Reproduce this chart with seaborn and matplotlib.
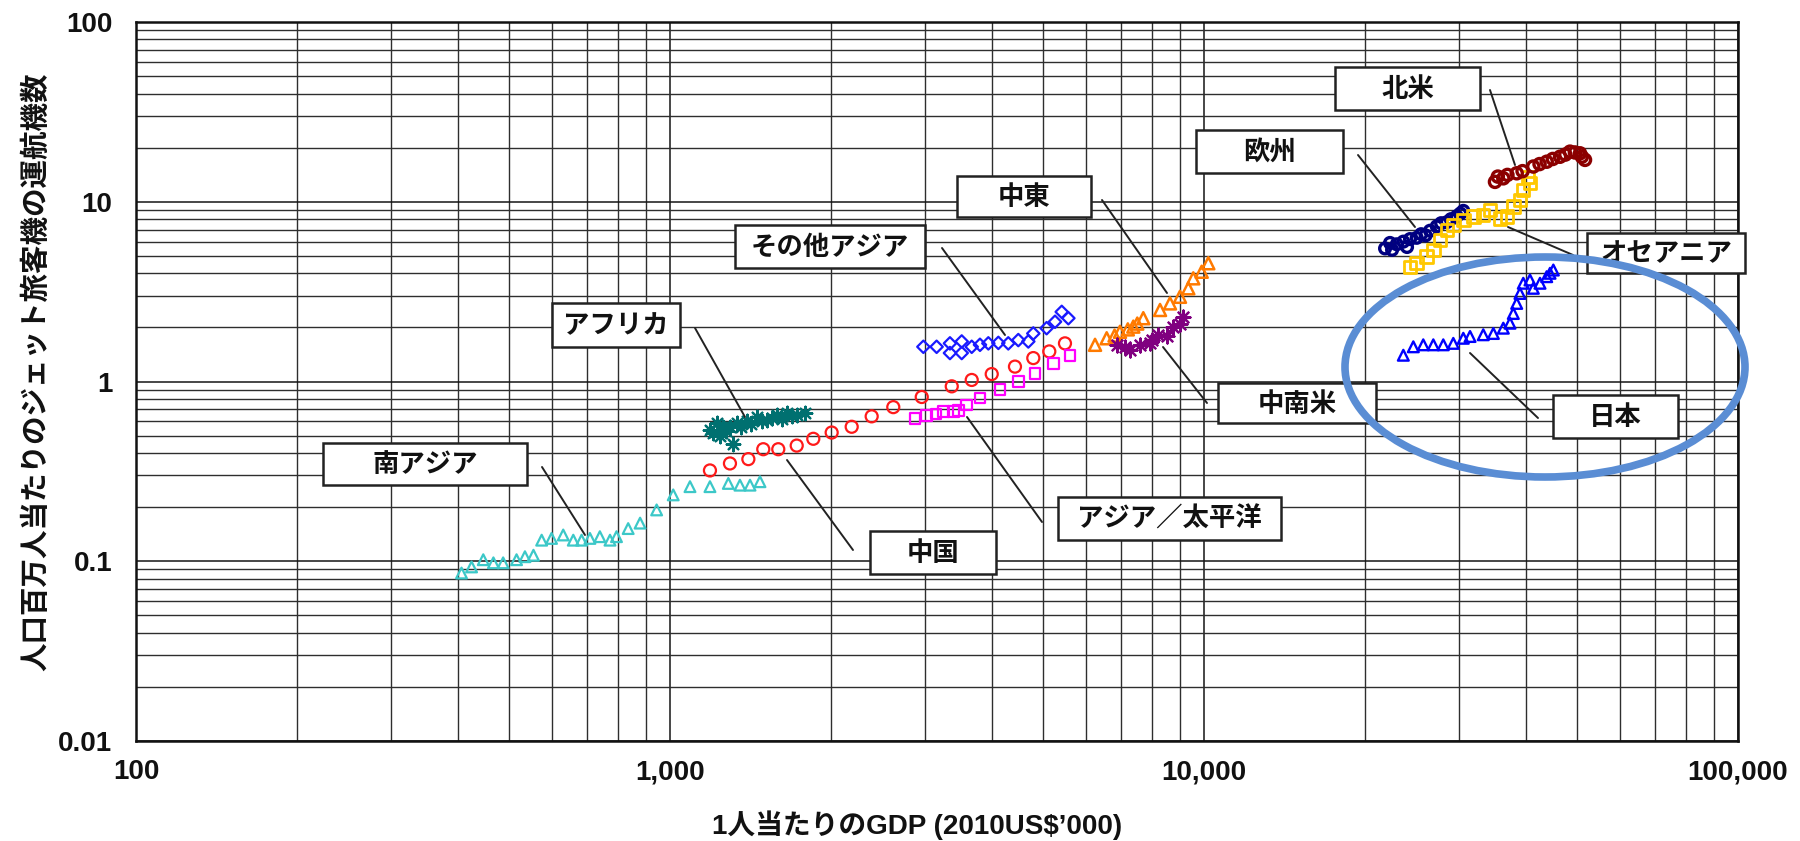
import matplotlib
matplotlib.use("Agg")
import pandas as pd
import matplotlib.pyplot as plt
import seaborn as sns
from matplotlib.patches import Ellipse, Rectangle
from matplotlib.lines import Line2D
from matplotlib.ticker import LogLocator, FuncFormatter, NullFormatter

## Values: GDP per capita (2010 US$) vs. jets per million people
south_asia_gdp = [407, 425, 447, 467, 487, 516, 535, 555, 575, 600, 631, 659, 683, 708,
                  739, 772, 794, 835, 879, 944, 1014, 1090, 1188, 1286, 1352, 1412, 1474]
south_asia_jets = [0.086, 0.093, 0.102, 0.098, 0.098, 0.102, 0.106, 0.108, 0.131, 0.134,
                   0.140, 0.131, 0.131, 0.134, 0.137, 0.131, 0.137, 0.152, 0.163, 0.193,
                   0.234, 0.260, 0.260, 0.271, 0.265, 0.265, 0.277]

china_gdp = [1188, 1295, 1402, 1495, 1595, 1727, 1855, 2008, 2189, 2386, 2619, 2961,
             3370, 3673, 4004, 4426, 4790, 5132, 5491]
china_jets = [0.32, 0.35, 0.37, 0.42, 0.42, 0.44, 0.48, 0.52, 0.56, 0.64, 0.72, 0.82,
              0.94, 1.02, 1.10, 1.21, 1.35, 1.47, 1.63]

africa_gdp = [1188, 1205, 1223, 1240, 1258, 1275, 1295, 1312, 1333, 1360, 1392, 1420,
              1453, 1485, 1517, 1550, 1584, 1620, 1654, 1690, 1727, 1790]
africa_jets = [0.54, 0.52, 0.585, 0.50, 0.56, 0.53, 0.56, 0.45, 0.585, 0.56, 0.60, 0.58,
               0.637, 0.60, 0.61, 0.63, 0.65, 0.62, 0.665, 0.64, 0.65, 0.665]

asia_pac_gdp = [2876, 3025, 3150, 3250, 3400, 3467, 3594, 3806, 4150, 4490, 4825, 5222, 5610]
asia_pac_jets = [0.62, 0.65, 0.66, 0.68, 0.68, 0.69, 0.74, 0.81, 0.90, 1.00, 1.11, 1.26, 1.40]

other_asia_gdp = [2982, 3157, 3344, 3344, 3518, 3518, 3673, 3806, 3946, 4120, 4300, 4490,
                  4688, 4790, 5073, 5260, 5415, 5572]
other_asia_jets = [1.56, 1.56, 1.63, 1.44, 1.67, 1.44, 1.56, 1.60, 1.63, 1.64, 1.63, 1.70,
                   1.67, 1.85, 1.98, 2.15, 2.44, 2.25]

mideast_gdp = [6251, 6573, 6800, 6961, 7200, 7373, 7500, 7697, 8273, 8636, 9016, 9346,
               9548, 9901, 10188]
mideast_jets = [1.60, 1.74, 1.80, 1.89, 1.95, 2.02, 2.10, 2.25, 2.50, 2.72, 2.96, 3.30,
                3.75, 4.08, 4.55]

latam_gdp = [6864, 7100, 7269, 7589, 7924, 8000, 8212, 8514, 8759, 9000, 9146]
latam_jets = [1.60, 1.55, 1.50, 1.60, 1.63, 1.70, 1.82, 1.78, 2.02, 2.10, 2.29]

europe_gdp = [21830, 22300, 22500, 22960, 23620, 24000, 24310, 25020, 25500, 26000, 26500,
              27280, 27800, 28500, 29000, 29730, 30200, 30590]
europe_jets = [5.5, 5.9, 5.4, 5.8, 6.0, 5.6, 6.2, 6.3, 6.6, 6.5, 6.9, 7.3, 7.6, 7.7, 8.0,
               8.3, 8.6, 8.9]

oceania_gdp = [24310, 25020, 26120, 26880, 27670, 28480, 29300, 30590, 31940, 33340, 34320,
               35840, 36890, 37950, 39060, 39620, 40780, 40480]
oceania_jets = [4.35, 4.55, 4.95, 5.39, 6.13, 6.97, 7.43, 7.92, 8.26, 8.44, 9.0, 8.09,
                8.26, 9.39, 10.2, 11.6, 12.67, 13.78]

north_america_gdp = [35070, 35500, 36350, 37000, 38510, 39500, 41370, 42500, 43830, 45000,
                     46420, 47500, 48460, 49500, 50600, 51700, 51000]
north_america_jets = [12.9, 13.8, 13.5, 14.1, 14.4, 14.8, 15.7, 16.2, 16.7, 17.3, 17.8,
                      18.3, 19.0, 18.8, 18.6, 17.1, 17.8]

japan_gdp = [23620, 24660, 25740, 26880, 28060, 29300, 30590, 31490, 33340, 34820, 36350,
             37410, 37950, 38510, 39060, 39620, 40780, 41370, 42580, 43830, 44460, 45100]
japan_jets = [1.40, 1.56, 1.60, 1.60, 1.60, 1.63, 1.74, 1.78, 1.82, 1.85, 1.98, 2.11,
              2.39, 2.72, 3.09, 3.52, 3.67, 3.30, 3.52, 3.83, 4.00, 4.17]

x_ticks = [100, 1000, 10000, 100000]
y_ticks = [0.01, 0.1, 1, 10, 100]

x_title = "1人当たりのGDP (2010US$\u2019000)"
y_title = "人口百万人当たりのジェット旅客機の運航機数"

## (name, gdp, jets, marker, color, size, edge width, hollow)
series = [
    ("南アジア", south_asia_gdp, south_asia_jets, "^", "#3CC8C8", 60, 1.6, True),
    ("アフリカ", africa_gdp, africa_jets, (8, 2, 0), "#007070", 95, 1.6, False),
    ("中国", china_gdp, china_jets, "o", "#FF1A1A", 75, 1.6, True),
    ("アジア／太平洋", asia_pac_gdp, asia_pac_jets, "s", "#FF00FF", 60, 1.6, True),
    ("その他アジア", other_asia_gdp, other_asia_jets, "D", "#1A1AFF", 40, 1.6, True),
    ("中東", mideast_gdp, mideast_jets, "^", "#FF7A00", 75, 1.8, True),
    ("中南米", latam_gdp, latam_jets, (8, 2, 0), "#800080", 100, 1.6, False),
    ("欧州", europe_gdp, europe_jets, "o", "#000080", 60, 2.4, True),
    ("オセアニア", oceania_gdp, oceania_jets, "s", "#FFC800", 80, 2.0, True),
    ("北米", north_america_gdp, north_america_jets, "o", "#8B0000", 65, 2.4, True),
    ("日本", japan_gdp, japan_jets, "^", "#0000FF", 60, 1.7, True),
]

df = pd.concat([pd.DataFrame({"region": name, "gdp": gdp, "jets": jets})
                for name, gdp, jets, *_ in series], ignore_index=True)

sns.set_style("white")
plt.rcParams["font.family"] = ["Liberation Sans", "Noto Sans CJK JP"]
plt.rcParams["font.weight"] = "bold"

W, H = 1800, 841
fig = plt.figure(figsize=(W / 100, H / 100), dpi=100)
ax = fig.add_axes([136 / W, 1 - 741 / H, (1738 - 136) / W, (741 - 22) / H])

for name, _, _, marker, color, size, lw, hollow in series:
    sub = df[df["region"] == name]
    if hollow:
        sns.scatterplot(data=sub, x="gdp", y="jets", marker=marker, s=size, color=color,
                        facecolor="none", edgecolor=color, linewidth=lw, ax=ax, legend=False)
    else:
        sns.scatterplot(data=sub, x="gdp", y="jets", marker=marker, s=size, color=color,
                        linewidth=lw, ax=ax, legend=False)

ax.set_xscale("log")
ax.set_yscale("log")
ax.set_xlim(100, 100000)
ax.set_ylim(0.01, 100)

ax.xaxis.set_minor_locator(LogLocator(base=10, subs=range(2, 10)))
ax.yaxis.set_minor_locator(LogLocator(base=10, subs=range(2, 10)))
ax.xaxis.set_minor_formatter(NullFormatter())
ax.yaxis.set_minor_formatter(NullFormatter())
ax.set_xticks(x_ticks)
ax.set_yticks(y_ticks)
ax.xaxis.set_major_formatter(FuncFormatter(lambda v, p: f"{v:,.0f}"))
ax.yaxis.set_major_formatter(FuncFormatter(lambda v, p: f"{v:g}"))

ax.set_axisbelow(True)
ax.grid(which="major", color="#151515", linewidth=1.1)
ax.grid(which="minor", color="#2e2e2e", linewidth=1.0)
ax.tick_params(which="both", length=0)
ax.tick_params(axis="x", pad=13, labelsize=20, colors="#111111")
ax.tick_params(axis="y", pad=17, labelsize=20, colors="#111111")
for s in ax.spines.values():
    s.set_color("#111111")
    s.set_linewidth(1.8)

ax.set_xlabel(x_title, fontsize=20, fontweight="bold", color="#111111")
ax.xaxis.label.set_va("center")
ax.xaxis.set_label_coords((917 - 136) / 1602, -(825 - 741) / 719)
ax.set_ylabel(y_title, fontsize=20.5, fontweight="bold", color="#111111")
ax.yaxis.label.set_va("center")
ax.yaxis.set_label_coords((36 - 136) / 1602, (741 - 372) / 719)


## Call-out boxes and leader lines, in image pixels (left, top, right, bottom)
def fx(x):
    return x / W


def fy(y):
    return 1 - y / H


callouts = [
    ("北米", (1335, 67, 1480, 110), ((1490, 90), (1515, 165))),
    ("欧州", (1196, 130, 1343, 173), ((1358, 155), (1415, 227))),
    ("オセアニア", (1587, 233, 1745, 273), ((1508, 227), (1573, 255))),
    ("日本", (1553, 395, 1678, 438), ((1470, 353), (1538, 418))),
    ("中東", (957, 176, 1091, 217), ((1102, 200), (1167, 293))),
    ("中南米", (1218, 383, 1376, 423), ((1163, 347), (1207, 403))),
    ("その他アジア", (735, 225, 925, 268), ((942, 248), (1005, 335))),
    ("アフリカ", (552, 303, 680, 347), ((695, 328), (745, 417))),
    ("南アジア", (323, 443, 527, 485), ((542, 467), (585, 535))),
    ("中国", (870, 531, 996, 574), ((787, 460), (853, 550))),
    ("アジア／太平洋", (1058, 497, 1281, 540), ((967, 417), (1042, 522))),
]

for text, (x0, y0, x1, y1), ((lx0, ly0), (lx1, ly1)) in callouts:
    fig.add_artist(Line2D([fx(lx0), fx(lx1)], [fy(ly0), fy(ly1)], transform=fig.transFigure,
                          color="#222222", linewidth=1.4, zorder=3))
    fig.add_artist(Rectangle((fx(x0), fy(y1)), fx(x1) - fx(x0), fy(y0) - fy(y1),
                             transform=fig.transFigure, facecolor="white",
                             edgecolor="#222222", linewidth=1.8, zorder=4))
    fig.text(fx((x0 + x1) / 2), fy((y0 + y1) / 2 + 1), text, ha="center", va="center",
             fontsize=19, fontweight="bold", family=["Noto Sans CJK JP", "DejaVu Sans"],
             color="#111111", zorder=5)

## Highlight ring around Japan
fig.add_artist(Ellipse((fx(1545), fy(367)), 400 / W, 220 / H, transform=fig.transFigure,
                       fill=False, edgecolor="#5A8DD4", linewidth=5.5, zorder=6))

fig.savefig("out.png", dpi=100, facecolor="white")
